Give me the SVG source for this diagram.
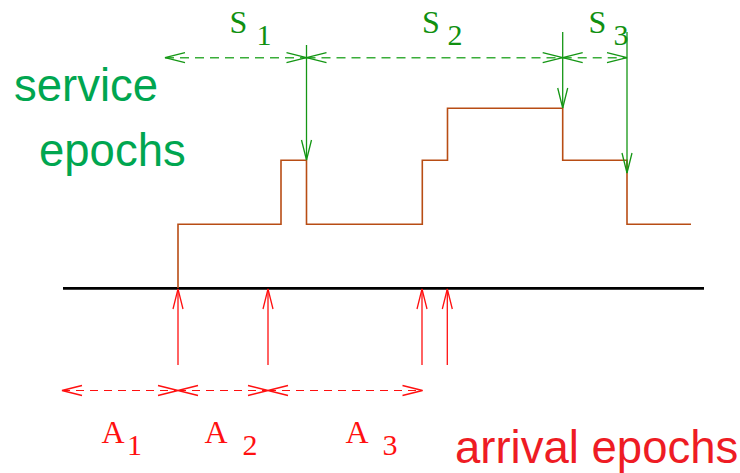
<svg xmlns="http://www.w3.org/2000/svg" width="740" height="473" viewBox="0 0 740 473">
<style>
.g{stroke:#149614;stroke-width:1.3;fill:none}
.gd{stroke:#3aad3a;stroke-width:1.6;fill:none;stroke-dasharray:9,6}
.r{stroke:#ff1010;stroke-width:1.3;fill:none}
.rd{stroke:#ff1010;stroke-width:1.2;fill:none;stroke-dasharray:8,6}
.br{stroke:#b84d14;stroke-width:1.6;fill:none}
.lbl{font-family:"Liberation Serif","Times New Roman",serif;font-size:30px}
.cap{font-size:32px}
.big{font-family:"Liberation Sans",Arial,Helvetica,sans-serif;font-size:45.5px}
</style>
<defs>
<marker id="mg" markerUnits="userSpaceOnUse" markerWidth="22" markerHeight="12" refX="20" refY="5" orient="auto-start-reverse" overflow="visible">
<path d="M0,0 L20,5 L0,10" fill="none" stroke="#149614" stroke-width="1.3" stroke-dasharray="none"/>
</marker>
<marker id="mr" markerUnits="userSpaceOnUse" markerWidth="22" markerHeight="12" refX="20" refY="5" orient="auto-start-reverse" overflow="visible">
<path d="M0,0 L20,5 L0,10" fill="none" stroke="#ff1010" stroke-width="1.3" stroke-dasharray="none"/>
</marker>
</defs>
<rect width="740" height="473" fill="#fff"/>
<g id="axis"><line x1="63" y1="288.3" x2="704" y2="288.3" stroke="#000" stroke-width="2.7"/></g>
<g id="staircase"><polyline class="br" points="178,288 178,224.3 281,224.3 281,160.3 306.5,160.3 306.5,224.3 422.3,224.3 422.3,160.3 447.5,160.3 447.5,108.3 562.7,108.3 562.7,160.3 627,160.3 627,224.3 691,224.3"/></g>
<g id="connectors">
<line class="gd" x1="165" y1="57.7" x2="306.5" y2="57.7" marker-start="url(#mg)" marker-end="url(#mg)"/>
<line class="gd" x1="306.5" y1="57.7" x2="562.7" y2="57.7" marker-start="url(#mg)" marker-end="url(#mg)"/>
<line class="gd" x1="562.7" y1="57.7" x2="627" y2="57.7" marker-start="url(#mg)" marker-end="url(#mg)"/>
<line class="g" x1="306.5" y1="45" x2="306.5" y2="160" marker-end="url(#mg)"/>
<line class="g" x1="562.7" y1="32" x2="562.7" y2="108" marker-end="url(#mg)"/>
<line class="g" x1="627" y1="32" x2="627" y2="173" marker-end="url(#mg)"/>
<line class="r" x1="178" y1="365" x2="178" y2="289" marker-end="url(#mr)"/>
<line class="r" x1="268" y1="365" x2="268" y2="289" marker-end="url(#mr)"/>
<line class="r" x1="422" y1="365" x2="422" y2="289" marker-end="url(#mr)"/>
<line class="r" x1="447.3" y1="365" x2="447.3" y2="289" marker-end="url(#mr)"/>
<line class="rd" x1="62" y1="390.5" x2="178" y2="390.5" marker-start="url(#mr)" marker-end="url(#mr)"/>
<line class="rd" x1="178" y1="390.5" x2="268" y2="390.5" marker-start="url(#mr)" marker-end="url(#mr)"/>
<line class="rd" x1="268" y1="390.5" x2="422.5" y2="390.5" marker-start="url(#mr)" marker-end="url(#mr)"/>
</g>
<g id="s-labels" class="lbl" fill="#109010">
<text class="cap" x="229.5" y="33">S</text><text x="256.5" y="45">1</text>
<text class="cap" x="422" y="33">S</text><text x="447.5" y="45">2</text>
<text class="cap" x="588.5" y="33">S</text><text x="613.5" y="45">3</text>
</g>
<g id="a-labels" class="lbl" fill="#ff1010">
<text class="cap" x="101.5" y="442.7">A</text><text x="127" y="455">1</text>
<text class="cap" x="204.5" y="442.7">A</text><text x="242.5" y="455">2</text>
<text class="cap" x="345.5" y="442.7">A</text><text x="382.5" y="455">3</text>
</g>
<g id="service-epochs" class="big" fill="#00a650">
<text x="14" y="100.7">service</text>
<text x="39" y="166">epochs</text>
</g>
<g id="arrival-epochs" class="big" fill="#ee1c24">
<text x="455" y="463">arrival epochs</text>
</g>
</svg>
